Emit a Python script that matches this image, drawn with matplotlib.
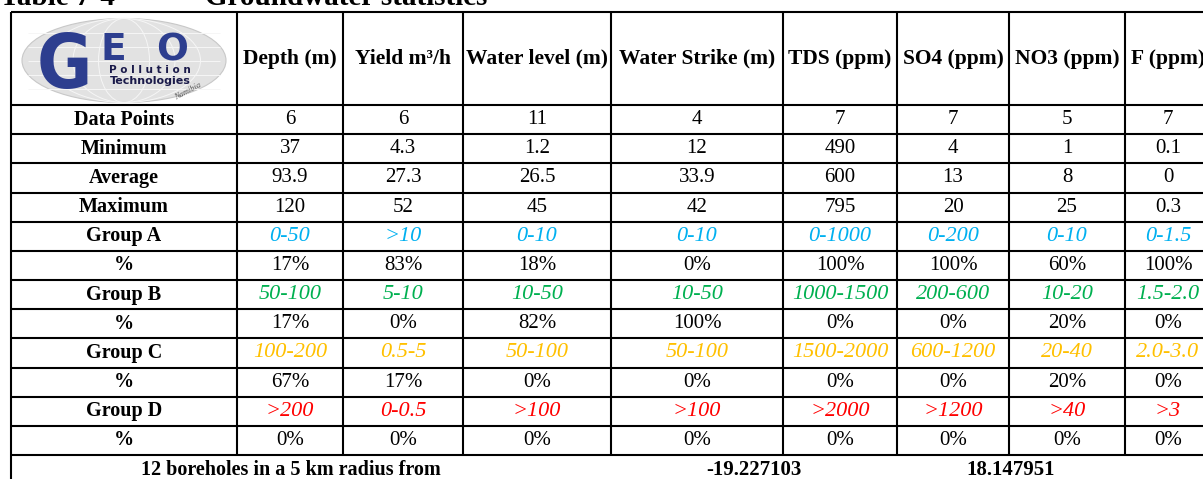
import matplotlib
matplotlib.use("Agg")
import matplotlib.pyplot as plt
from matplotlib.patches import Ellipse

# ---- data ----
title_num = "Table 7-4"
title_txt = "Groundwater statistics"
columns = ["Depth (m)", "Yield m³/h", "Water level (m)", "Water Strike (m)",
           "TDS (ppm)", "SO4 (ppm)", "NO3 (ppm)", "F (ppm)"]
data_points = ["6", "6", "11", "4", "7", "7", "5", "7"]
minimum = ["37", "4.3", "1.2", "12", "490", "4", "1", "0.1"]
average = ["93.9", "27.3", "26.5", "33.9", "600", "13", "8", "0"]
maximum = ["120", "52", "45", "42", "795", "20", "25", "0.3"]
group_a = ["0-50", ">10", "0-10", "0-10", "0-1000", "0-200", "0-10", "0-1.5"]
pct_a = [17, 83, 18, 0, 100, 100, 60, 100]
group_b = ["50-100", "5-10", "10-50", "10-50", "1000-1500", "200-600", "10-20", "1.5-2.0"]
pct_b = [17, 0, 82, 100, 0, 0, 20, 0]
group_c = ["100-200", "0.5-5", "50-100", "50-100", "1500-2000", "600-1200", "20-40", "2.0-3.0"]
pct_c = [67, 17, 0, 0, 0, 0, 20, 0]
group_d = [">200", "0-0.5", ">100", ">100", ">2000", ">1200", ">40", ">3"]
pct_d = [0, 0, 0, 0, 0, 0, 0, 0]
footer_text = "12 boreholes in a 5 km radius from"
footer_lat = "-19.227103"
footer_lon = "18.147951"

group_colors = {"A": "#00B0F0", "B": "#00B050", "C": "#FFC000", "D": "#FF0000"}

rows = [
    ("Data Points", data_points, None),
    ("Minimum", minimum, None),
    ("Average", average, None),
    ("Maximum", maximum, None),
    ("Group A", group_a, "A"),
    ("%", [f"{v}%" for v in pct_a], None),
    ("Group B", group_b, "B"),
    ("%", [f"{v}%" for v in pct_b], None),
    ("Group C", group_c, "C"),
    ("%", [f"{v}%" for v in pct_c], None),
    ("Group D", group_d, "D"),
    ("%", [f"{v}%" for v in pct_d], None),
]

# ---- layout (pixels) ----
W, H = 1203, 479
col_edges = [11, 237, 343, 463, 611, 783, 897, 1009, 1125, 1211]
top, head_bottom, row_h = 12, 105, 29.17
serif = "Liberation Serif"

fig = plt.figure(figsize=(W / 100, H / 100), dpi=100)
ax = fig.add_axes([0, 0, 1, 1])
ax.set_xlim(0, W)
ax.set_ylim(H, 0)
ax.axis("off")

lw = 1.5
n_rows = len(rows)
table_bottom = head_bottom + n_rows * row_h

# title (cut at top edge)
ax.text(0, 5, title_num, fontsize=21, fontweight="bold", family=serif, va="baseline")
ax.text(205, 5, title_txt, fontsize=21, fontweight="bold", family=serif, va="baseline")

# grid lines
ax.hlines(top, col_edges[0], col_edges[-1], color="black", lw=lw)
ax.hlines(head_bottom, col_edges[0], col_edges[-1], color="black", lw=lw)
for i in range(1, n_rows + 1):
    ax.hlines(head_bottom + i * row_h, col_edges[0], col_edges[-1], color="black", lw=lw)
for x in col_edges:
    ax.vlines(x, top, table_bottom, color="black", lw=lw)
ax.vlines(col_edges[0], table_bottom, H + 5, color="black", lw=lw)

# logo
lx, ly = (col_edges[0] + col_edges[1]) / 2, (top + head_bottom) / 2
ax.add_patch(Ellipse((lx, ly + 2), 204, 84, facecolor="#e2e2e2", edgecolor="#c8c8c8", lw=0.8))
for k in (0.25, 0.5, 0.75):
    ax.add_patch(Ellipse((lx, ly + 2), 204 * k, 84, fill=False, edgecolor="#f6f6f6", lw=0.7))
for dy in (-28, -14, 0, 14, 28):
    ax.hlines(ly + 2 + dy, lx - 96, lx + 96, color="#f6f6f6", lw=0.7)
logo_blue = "#2d3e8f"
ax.text(64, 88, "G", fontsize=54, fontweight="bold", family="DejaVu Sans",
        fontstretch="condensed", color=logo_blue, va="baseline", ha="center")
ax.text(113, 60, "E", fontsize=27, fontweight="bold", family="DejaVu Sans",
        color=logo_blue, va="baseline", ha="center")
ax.text(172, 60, "O", fontsize=27, fontweight="bold", family="DejaVu Sans",
        color=logo_blue, va="baseline", ha="center")
ax.text(150, 73, "P o l l u t i o n", fontsize=7.5, fontweight="bold",
        family="DejaVu Sans", color="#1a1a4a", va="baseline", ha="center")
ax.text(150, 84, "Technologies", fontsize=8, fontweight="bold",
        family="DejaVu Sans", color="#1a1a4a", va="baseline", ha="center")
ax.text(188, 91, "Namibia", fontsize=6, style="italic", family=serif,
        color="#555555", rotation=28, ha="center", va="center")

# header
for j, name in enumerate(columns):
    cx = (col_edges[j + 1] + col_edges[j + 2]) / 2
    ax.text(cx, (top + head_bottom) / 2, name, fontsize=15.5, fontweight="bold",
            family=serif, ha="center", va="center")

# body
label_cx = (col_edges[0] + col_edges[1]) / 2
for i, (label, vals, grp) in enumerate(rows):
    cy = head_bottom + (i + 0.5) * row_h
    ax.text(label_cx, cy, label, fontsize=14.5, fontweight="bold", family=serif,
            ha="center", va="center")
    for j, v in enumerate(vals):
        cx = (col_edges[j + 1] + col_edges[j + 2]) / 2
        if grp:
            ax.text(cx, cy, v, fontsize=16, style="italic", family=serif,
                    color=group_colors[grp], ha="center", va="center")
        else:
            ax.text(cx, cy, v, fontsize=15, family=serif, ha="center", va="center")

# footer row
fy = table_bottom + row_h / 2
ax.text(291, fy, footer_text, fontsize=14.5, fontweight="bold", family=serif,
        ha="center", va="center")
ax.text((col_edges[4] + col_edges[6]) / 2, fy, footer_lat, fontsize=15,
        fontweight="bold", family=serif, ha="center", va="center")
ax.text((col_edges[6] + col_edges[8]) / 2, fy, footer_lon, fontsize=15,
        fontweight="bold", family=serif, ha="center", va="center")

fig.savefig("out.png", dpi=100)
